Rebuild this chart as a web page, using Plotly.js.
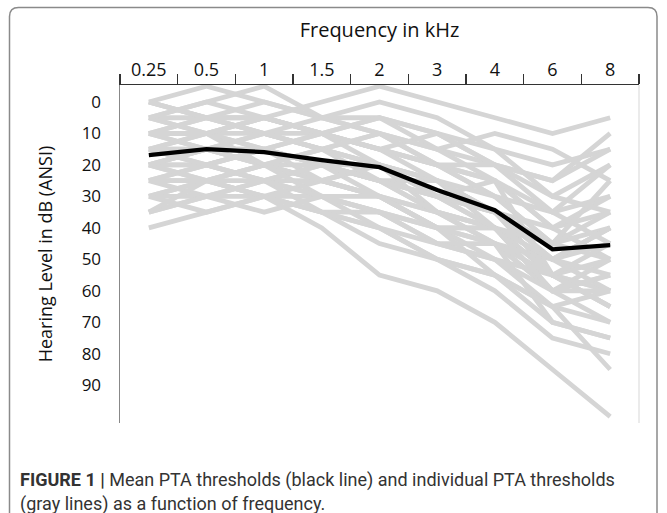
<!DOCTYPE html>
<html>
<head>
<meta charset="utf-8">
<script src="https://cdn.plot.ly/plotly-3.0.1.min.js"></script>
<style>
html,body{margin:0;padding:0;background:#fff;}
#chart{width:667px;height:513px;}
</style>
</head>
<body>
<div id="chart"></div>
<script>
// Frequencies (kHz) – category labels
const freqs = ['0.25', '0.5', '1', '1.5', '2', '3', '4', '6', '8'];
const yTicks = [0, 10, 20, 30, 40, 50, 60, 70, 80, 90];

// Mean PTA thresholds (black line), dB HL
const meanPTA = [16.9, 15, 15.9, 18.5, 20.7, 28, 34.4, 46.8, 45.5];

// Individual PTA thresholds (gray lines), dB HL
const p01 = [0, -5, 0, 5, 5, 10, 15, 20, 15];
const p02 = [5, 0, -5, 5, 10, 15, 20, 25, 10];
const p03 = [5, 5, 5, 0, -5, 0, 5, 10, 5];
const p04 = [0, 5, 0, 5, 0, 5, 15, 30, 20];
const p05 = [10, 5, 10, 10, 5, 15, 10, 15, 25];
const p06 = [10, 10, 5, 10, 15, 10, 20, 35, 30];
const p07 = [5, 10, 10, 15, 10, 20, 25, 40, 35];
const p08 = [15, 10, 5, 10, 15, 20, 30, 45, 40];
const p09 = [10, 15, 15, 10, 20, 25, 35, 50, 45];
const p10 = [15, 15, 10, 15, 20, 30, 25, 40, 50];
const p11 = [20, 15, 20, 15, 10, 20, 25, 55, 60];
const p12 = [15, 20, 15, 20, 25, 25, 35, 55, 65];
const p13 = [20, 20, 25, 20, 20, 35, 45, 50, 40];
const p14 = [25, 20, 15, 20, 25, 30, 35, 45, 35];
const p15 = [20, 25, 20, 25, 30, 40, 45, 60, 50];
const p16 = [25, 25, 30, 25, 20, 30, 40, 55, 50];
const p17 = [30, 25, 20, 25, 30, 35, 40, 55, 60];
const p18 = [25, 30, 25, 30, 35, 45, 50, 65, 70];
const p19 = [30, 30, 25, 35, 35, 45, 45, 60, 55];
const p20 = [35, 30, 30, 35, 45, 50, 55, 65, 85];
const p21 = [40, 35, 30, 40, 55, 60, 70, 85, 100];
const p22 = [35, 30, 35, 30, 40, 50, 60, 75, 80];
const p23 = [10, 5, 10, 15, 20, 25, 40, 50, 60];
const p24 = [15, 10, 15, 10, 15, 20, 30, 35, 20];
const p25 = [20, 15, 10, 15, 20, 25, 35, 40, 30];
const p26 = [0, 5, 10, 5, 10, 15, 25, 35, 45];
const p27 = [30, 25, 30, 30, 35, 40, 40, 55, 65];
const p28 = [5, 10, 5, 10, 15, 25, 30, 45, 25];
const p29 = [25, 20, 25, 25, 30, 35, 40, 50, 40];
const p30 = [15, 15, 20, 20, 30, 40, 40, 60, 55];
const p31 = [10, 10, 15, 20, 25, 35, 45, 70, 75];
const p32 = [20, 25, 30, 35, 40, 50, 55, 65, 60];
const p33 = [5, 0, 5, 10, 5, 10, 20, 30, 35];
const p34 = [10, 15, 20, 25, 20, 30, 35, 50, 55];
const p35 = [20, 20, 15, 25, 30, 40, 50, 60, 70];
const p36 = [15, 20, 25, 20, 25, 35, 40, 45, 50];
const p37 = [25, 25, 20, 30, 35, 40, 55, 70, 75];
const p38 = [30, 35, 30, 35, 40, 45, 50, 55, 65];
const p39 = [0, 5, 5, 10, 15, 20, 20, 25, 15];
const p40 = [35, 25, 25, 30, 30, 40, 45, 55, 45];
const p41 = [10, 10, 20, 15, 25, 30, 40, 60, 60];
const p42 = [20, 15, 15, 20, 25, 30, 35, 50, 40];

const individuals = [p01,p02,p03,p04,p05,p06,p07,p08,p09,p10,p11,p12,p13,p14,p15,p16,
                     p17,p18,p19,p20,p21,p22,p23,p24,p25,p26,p27,p28,p29,p30,p31,p32,
                     p33,p34,p35,p36,p37,p38,p39,p40,p41,p42];

const traces = individuals.map(v => ({
  type: 'scatter', mode: 'lines', x: freqs, y: v,
  line: {color: '#d5d5d5', width: 4.8}, hoverinfo: 'skip', showlegend: false
}));
traces.push({
  type: 'scatter', mode: 'lines', x: freqs, y: meanPTA,
  line: {color: '#000000', width: 4.3}, showlegend: false
});

// plot area: x 120..639, y 85..423
const PW = 519, PH = 338;
const px = v => (v - 120) / PW;
const py = v => (423 - v) / PH;
function roundRect(x0, y0, x1, y1, r) {
  const rx = r / PW, ry = r / PH;
  const X0 = px(x0), X1 = px(x1), Y0 = py(y0), Y1 = py(y1);
  return `M ${X0+rx},${Y0} L ${X1-rx},${Y0} Q ${X1},${Y0} ${X1},${Y0-ry} ` +
         `L ${X1},${Y1} L ${X0},${Y1} L ${X0},${Y0-ry} Q ${X0},${Y0} ${X0+rx},${Y0} Z`;
}

const font = 'Open Sans, Lato, sans-serif';
const capFont = 'Liberation Sans Narrow, Roboto, Liberation Sans, sans-serif';

const layout = {
  width: 667, height: 513,
  margin: {l: 120, r: 28, t: 85, b: 90},
  paper_bgcolor: '#ffffff', plot_bgcolor: '#ffffff',
  showlegend: false,
  xaxis: {
    type: 'category', side: 'top', range: [-0.5, 8.5],
    tickson: 'boundaries', ticks: 'outside', ticklen: 10, tickwidth: 1.2, tickcolor: '#333',
    showline: true, linecolor: '#333', linewidth: 1.5,
    showgrid: false, zeroline: false,
    tickfont: {family: font, size: 18, color: '#111'},
    title: {text: 'Frequency in kHz', font: {family: font, size: 20, color: '#111'}, standoff: 14}
  },
  yaxis: {
    range: [102, -5.4], autorange: false,
    tickvals: yTicks, ticktext: yTicks.map(String),
    ticks: 'outside', ticklen: 14, tickcolor: 'rgba(0,0,0,0)',
    showline: true, linecolor: '#888', linewidth: 1.5,
    showgrid: false, zeroline: false,
    tickfont: {family: font, size: 17, color: '#111'},
    title: {text: 'Hearing Level in dB (ANSI)', font: {family: font, size: 18, color: '#111'}, standoff: 24}
  },
  shapes: [
    {type: 'line', xref: 'paper', yref: 'paper', x0: 1, x1: 1, y0: 0, y1: 1,
     line: {color: '#dedede', width: 1.2}},
    {type: 'path', xref: 'paper', yref: 'paper', path: roundRect(9.5, 7.5, 657, 530, 9),
     line: {color: '#8a8a8a', width: 1.5}, fillcolor: 'rgba(0,0,0,0)'}
  ],
  annotations: [
    {xref: 'paper', yref: 'paper', x: px(18), y: py(480), xanchor: 'left', yanchor: 'middle',
     showarrow: false, align: 'left',
     text: '<b>FIGURE 1 |</b> Mean PTA thresholds (black line) and individual PTA thresholds',
     font: {family: capFont, size: 18, color: '#333'}},
    {xref: 'paper', yref: 'paper', x: px(18), y: py(504), xanchor: 'left', yanchor: 'middle',
     showarrow: false, align: 'left',
     text: '(gray lines) as a function of frequency.',
     font: {family: capFont, size: 18, color: '#333'}}
  ]
};

Plotly.newPlot('chart', traces, layout, {staticPlot: true, displayModeBar: false});
</script>
</body>
</html>
